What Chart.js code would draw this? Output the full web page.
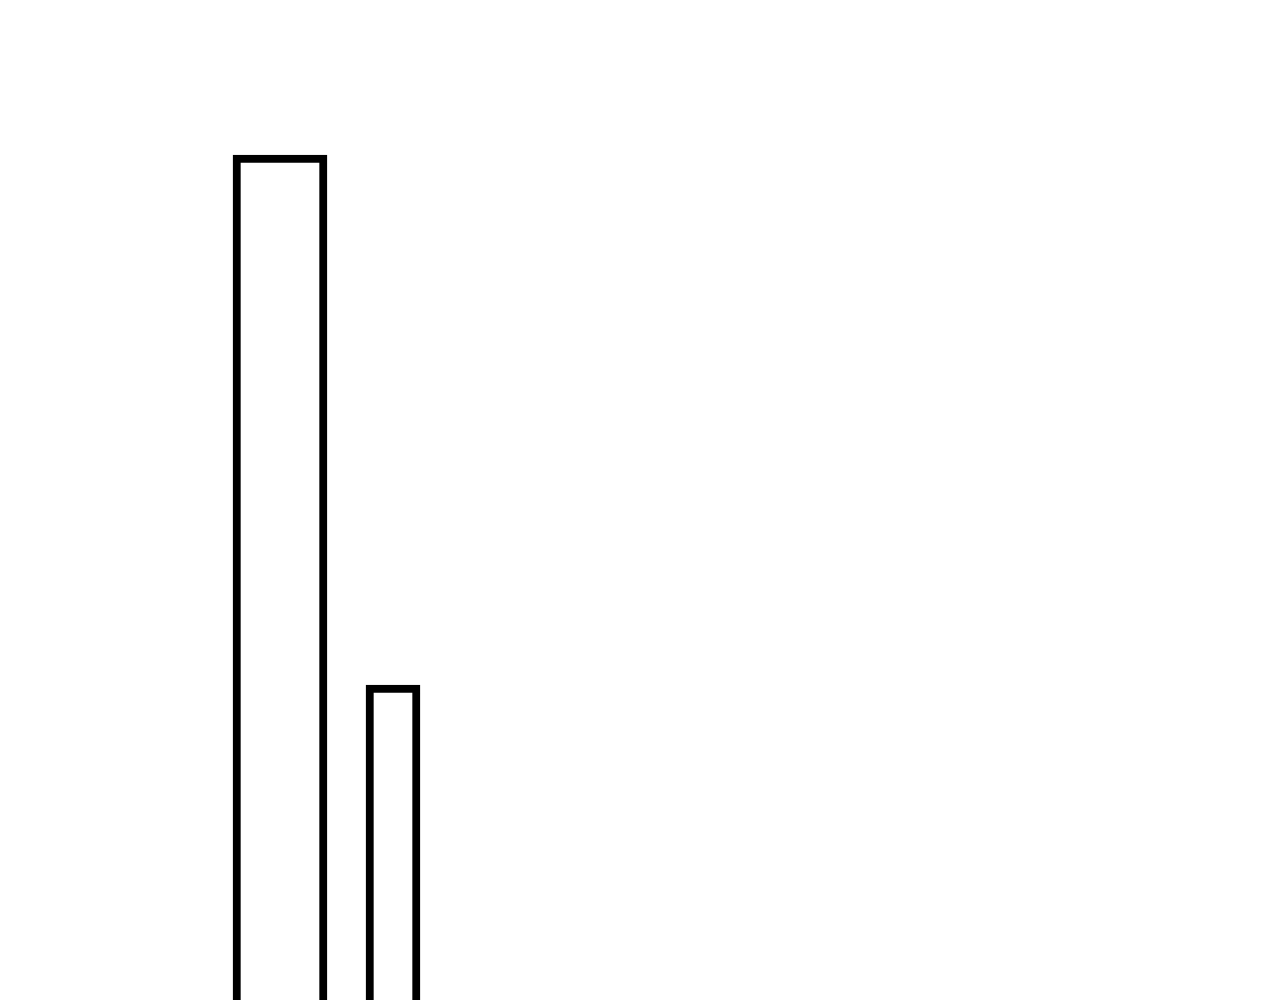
<!DOCTYPE html>
<html>
<head>
<meta charset="utf-8">
<script src="https://cdn.jsdelivr.net/npm/chart.js@4/dist/chart.umd.min.js"></script>
<style>
  html, body { margin: 0; padding: 0; background: #fff; overflow: hidden; }
  #wrap { width: 1280px; height: 1100px; position: relative; }
</style>
</head>
<body>
<div id="wrap"><canvas id="barChart"></canvas></div>
<script>
  // categories and values (bars run past the bottom edge)
  var categories = ['A', 'B'];
  var wideBar = [94.5, null];
  var narrowBar = [null, 41.5];

  var ctx = document.getElementById('barChart').getContext('2d');

  new Chart(ctx, {
    type: 'bar',
    data: {
      labels: categories,
      datasets: [
        {
          data: wideBar,
          backgroundColor: '#ffffff',
          borderColor: '#000000',
          borderWidth: 8,
          barThickness: 94,
          grouped: false
        },
        {
          data: narrowBar,
          backgroundColor: '#ffffff',
          borderColor: '#000000',
          borderWidth: 8,
          barThickness: 54,
          grouped: false
        }
      ]
    },
    options: {
      responsive: true,
      maintainAspectRatio: false,
      animation: false,
      layout: {
        padding: { top: 100, left: 223.5, right: 830.5, bottom: 0 }
      },
      plugins: {
        legend: { display: false },
        tooltip: { enabled: false }
      },
      scales: {
        x: { display: false },
        y: { display: false, min: 0, max: 100 }
      }
    }
  });
</script>
</body>
</html>
